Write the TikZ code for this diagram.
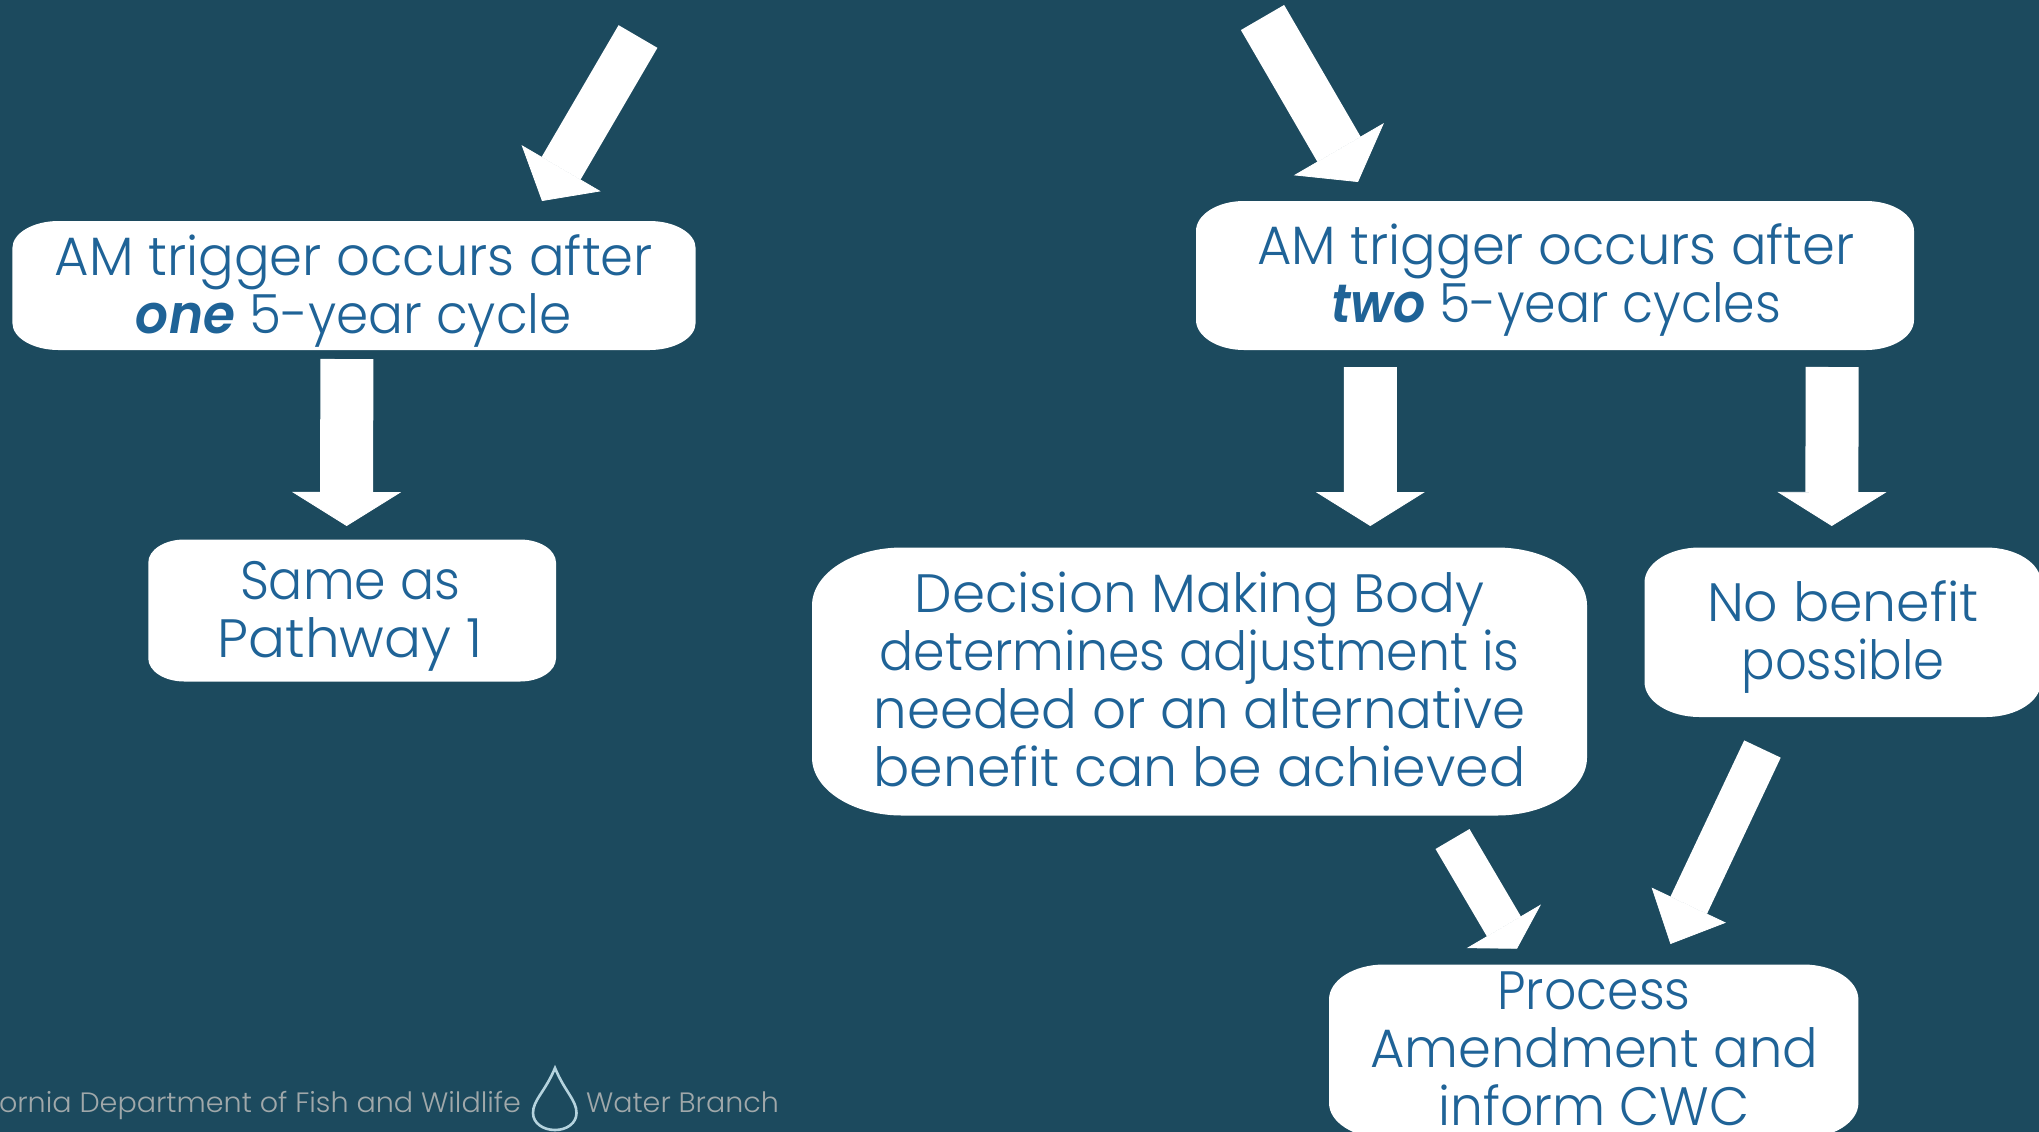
\documentclass[tikz,border=0pt]{standalone}
\usepackage{graphicx}
\usepackage{fontspec}
\setmainfont{Poppins}[UprightFont=* Light,BoldItalicFont=* SemiBold Italic,BoldFont=* SemiBold,ItalicFont=* Light Italic]
\usetikzlibrary{arrows.meta,calc}
\definecolor{bgteal}{HTML}{1C4A5E}
\definecolor{boxtext}{HTML}{1F6397}
\definecolor{foottext}{HTML}{A0A8AA}
\definecolor{dropline}{HTML}{B5D3DE}
% horizontally fit one line of text to a measured width (in reference pixels)
\newcommand\fitln[2]{\setbox0=\hbox{#2}\pgfmathsetmacro{\fitr}{(#1*0.5)/\wd0}\scalebox{\fitr}[1]{\box0}}
% rounded box with elliptical corners: name, x0,y0,x1,y1,rx,ry
\newcommand\ovalbox[7]{%
  \fill[white] ({#2+#6},#3) -- ({#4-#6},#3)
    .. controls ({#4-0.45*#6},#3) and (#4,{#3+0.45*#7}) .. (#4,{#3+#7})
    -- (#4,{#5-#7})
    .. controls (#4,{#5-0.45*#7}) and ({#4-0.45*#6},#5) .. ({#4-#6},#5)
    -- ({#2+#6},#5)
    .. controls ({#2+0.45*#6},#5) and (#2,{#5-0.45*#7}) .. (#2,{#5-#7})
    -- (#2,{#3+#7})
    .. controls (#2,{#3+0.45*#7}) and ({#2+0.45*#6},#3) .. ({#2+#6},#3) -- cycle;
  \path ({(#2+#4)/2},{(#3+#5)/2}) node[boxframe,minimum width={(#4-#2)*0.5pt},minimum height={(#5-#3)*0.5pt}] (#1) {};
}
\tikzset{
  x=0.5pt,y=-0.5pt,
  boxframe/.style={rectangle,inner sep=0pt,outer sep=0pt},
  boxlabel/.style={inner sep=0pt,outer sep=0pt,align=center,text=boxtext,font=\fontsize{27}{29}\selectfont,anchor=center},
  footlabel/.style={inner sep=0pt,outer sep=0pt,text=foottext,font=\fontsize{14}{16}\selectfont,anchor=base west},
  blockarrow/.style n args={3}{draw=white,line width=#1pt,line cap=butt,-{Triangle[length=#3pt,width=#2pt,fill=white,line width=0.4pt]}}
}
\begin{document}
\begin{tikzpicture}
\useasboundingbox (0,0) rectangle (2039,1131);
\fill[bgteal] (-6,-6) rectangle (2045,1137);

\ovalbox{one}{12.4}{221}{695.6}{350}{46}{27}
\ovalbox{same}{148.3}{539.5}{556}{681.5}{36}{23}
\ovalbox{two}{1196}{201}{1914}{350}{48}{30}
\ovalbox{dmb}{812}{547.5}{1587}{815.5}{90}{58}
\ovalbox{nob}{1644.5}{547.5}{2041}{717}{55}{35}
\ovalbox{proc}{1329}{964.5}{1858.4}{1138}{55}{35}

\node[boxlabel] (one-t) at (354,290.5) {\fitln{598}{AM trigger occurs after}\\\fitln{436}{\textbf{\textit{one}} 5-year cycle}};
\node[boxlabel] (same-t) at (350,616) {\fitln{220}{Same as}\\\fitln{265}{Pathway 1}};
\node[boxlabel] (two-t) at (1556,280) {\fitln{597}{AM trigger occurs after}\\\fitln{450}{\textbf{\textit{two}} 5-year cycles}};
\node[boxlabel] (dmb-t) at (1199.5,679) {\fitln{570}{Decision Making Body}\\\fitln{640}{determines adjustment is}\\\fitln{652}{needed or an alternative}\\\fitln{652}{benefit can be achieved}};
\node[boxlabel] (nob-t) at (1843,637.5) {\fitln{272}{No benefit}\\\fitln{203}{possible}};
\node[boxlabel] (proc-t) at (1594,1049) {\fitln{193}{Process}\\\fitln{448}{Amendment and}\\\fitln{311}{inform CWC}};

\coordinate (src-left) at (638,36.5);
\coordinate (src-right) at (1262.5,17.5);
\draw[blockarrow={22.5}{45.75}{19}] (src-left) -- ($(one.north)+(188,-20)$);
\draw[blockarrow={25}{52}{19}] (src-right) -- ($(two.north)+(-197,-19)$);
\draw[blockarrow={26.5}{54.5}{17}] ($(one.south)+(-7.2,9)$) -- ($(same.north)+(-5.5,-13.5)$);
\draw[blockarrow={26.5}{54.5}{17}] ($(two.south)+(-184.7,17)$) -- ($(dmb.north)+(170.8,-21.5)$);
\draw[blockarrow={26.5}{54.5}{17}] ($(two.south)+(277.2,17)$) -- ($(nob.north)+(-11,-21.5)$);
\draw[blockarrow={19.7}{43}{13}] ($(dmb.south)+(253,23.5)$) -- ($(proc.north)+(-76.7,-15.8)$);
\draw[blockarrow={20.2}{41}{21.5}] ($(nob.south)+(-80.3,32)$) -- ($(proc.north)+(76.7,-20.5)$);

\node[footlabel] (foot-a) at (-1,1112) {\fitln{522}{ornia Department of Fish and Wildlife}};
\node[footlabel] (foot-b) at (586,1112) {\fitln{193}{Water Branch}};
\draw[dropline,line width=1.3pt,line join=miter]
  (555,1068) .. controls (545,1092) and (533,1100) .. (533,1113)
  .. controls (533,1123) and (543,1130) .. (555,1130)
  .. controls (567,1130) and (576.5,1123) .. (576.5,1113)
  .. controls (576.5,1100) and (565,1092) .. (555,1068) -- cycle;
\end{tikzpicture}
\end{document}
